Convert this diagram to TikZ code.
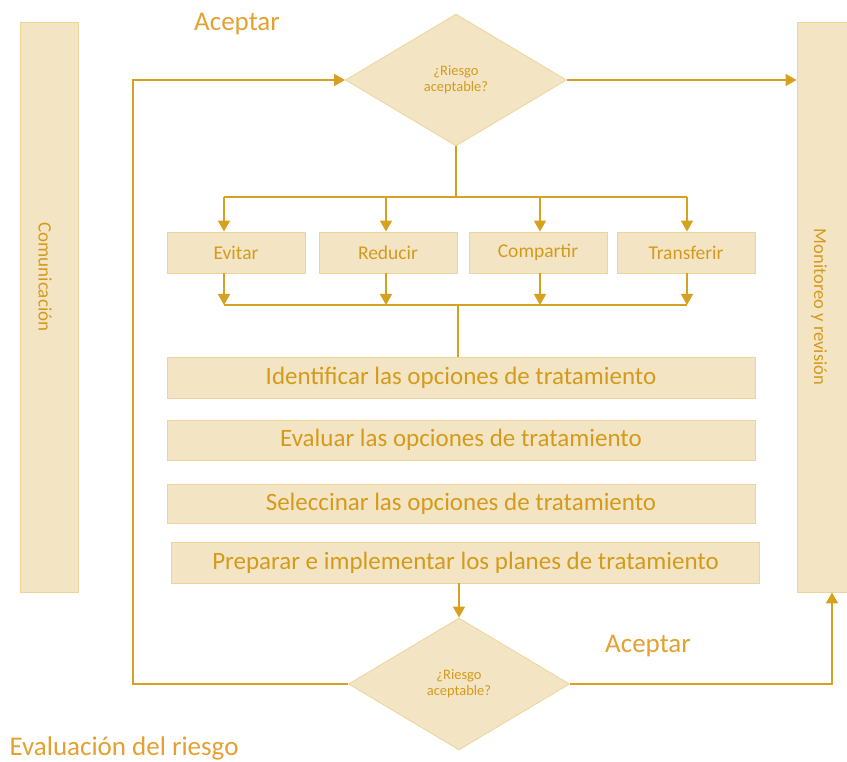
\documentclass[tikz,border=0pt]{standalone}
\usepackage{fontspec}
\setmainfont{Carlito}
\usetikzlibrary{shapes.geometric,arrows.meta,positioning}
\definecolor{gold}{HTML}{D6A11E}
\definecolor{goldtext}{HTML}{D49A1C}
\definecolor{boxfill}{HTML}{F3E5C4}
\definecolor{boxline}{HTML}{EDD49C}
\definecolor{accept}{HTML}{E4A030}
\begin{document}
\begin{tikzpicture}
        [x=1pt, y=-1pt,
        box/.style={draw=boxline, fill=boxfill, line width=0.8pt, inner sep=0pt, text=goldtext},
        small/.style={box, minimum width=138pt, minimum height=41pt, font=\fontsize{19.5}{22}\selectfont},
        wide/.style={box, minimum width=588pt, minimum height=40pt, font=\fontsize{25}{28}\selectfont},
        bar/.style={box, minimum width=58pt, minimum height=570pt},
        decision/.style={diamond, draw=boxline, fill=boxfill, line width=0.8pt, minimum width=221pt, minimum height=132pt, inner sep=0pt, align=center, text=goldtext, font=\fontsize{14.5}{16}\selectfont},
        flow/.style={gold, line width=1.6pt},
        arrow/.style={flow, -{Triangle[length=11pt,width=12pt]}},
        note/.style={text=accept, font=\fontsize{27}{30}\selectfont}]

        \useasboundingbox (0,0) rectangle (847,762);

        % side bars
        \node[bar] (com) at (49,307) {};
        \node[bar, minimum width=50pt] (mon) at (822,307) {};
        \node[rotate=-90, text=goldtext, font=\fontsize{19}{21}\selectfont] at (45,277) {Comunicación};
        \node[rotate=-90, text=goldtext, font=\fontsize{18.5}{20}\selectfont] at (819,307) {Monitoreo y revisión};

        % decisions
        \node[decision] (top) at (456,80) {¿Riesgo\\aceptable?};
        \node[decision] (bot) at (459,684) {¿Riesgo\\aceptable?};

        % options
        \node[small] (evitar) at (236,252.5) {Evitar};
        \node[small] (reducir) at (388,252.5) {Reducir};
        \node[small] (compartir) at (538,252.5) {Compartir};
        \node[small] (transferir) at (686,252.5) {Transferir};

        % treatment steps
        \node[wide, minimum height=41pt] (ident) at (461,377.5) {Identificar las opciones de tratamiento};
        \node[wide] (evaluar) at (461,440) {Evaluar las opciones de tratamiento};
        \node[wide, minimum height=39pt] (selec) at (461,503.5) {Seleccinar las opciones de tratamiento};
        \node[wide, minimum height=41pt] (prep) at (465.5,562.5) {Preparar e implementar los planes de tratamiento};

        % labels
        \node[note] (acc1) at (237,24) {Aceptar};
        \node[note] (acc2) at (648,646) {Aceptar};
        \node[note, anchor=west] (title) at (6,748) {Evaluación del riesgo};

        \coordinate (split) at (456,197);
        \coordinate (merge) at (458,305);
        \coordinate (loop) at (133,80);

        % branch and merge
        \draw[flow] (top.south) -- (split);
        \draw[flow] ([xshift=-12pt]evitar.north |- split) -- ([xshift=1pt]transferir.north |- split);
        \draw[flow] ([xshift=-12pt]evitar.south |- merge) -- ([xshift=1pt]transferir.south |- merge);
        \foreach \n/\s in {evitar/-12, reducir/-2, compartir/2, transferir/1} {
          \draw[arrow] ([xshift=\s pt]\n.north |- split) -- ([xshift=\s pt]\n.north);
          \draw[arrow] ([xshift=\s pt]\n.south) -- ([xshift=\s pt]\n.south |- merge);
        }
        \draw[flow] (merge) -- (merge |- ident.north);
        \draw[arrow] (bot.north |- prep.south) -- (bot.north);

        % outcomes
        \draw[arrow] (bot.west) -| (loop) -- (top.west);
        \draw[arrow] (top.east) -- (top.east -| mon.west);
        \draw[arrow] (bot.east) -| ([xshift=10pt]mon.south);

\end{tikzpicture}
\end{document}
